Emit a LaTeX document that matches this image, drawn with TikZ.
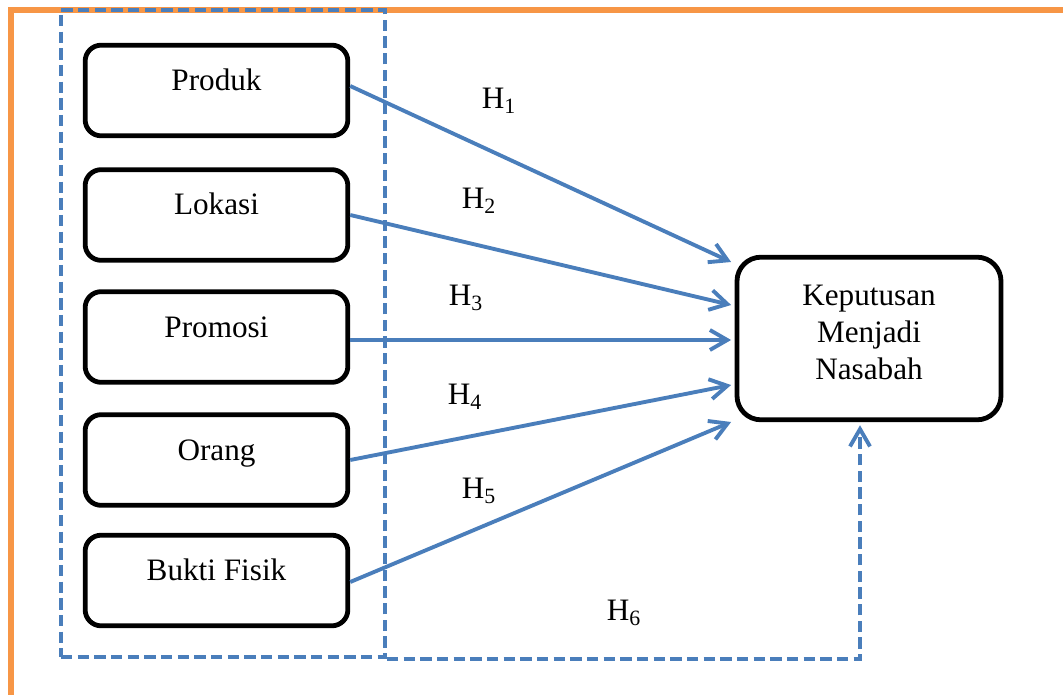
\documentclass[tikz,border=0pt]{standalone}
\usepackage{fontspec}
\setmainfont{Liberation Serif}
\usetikzlibrary{arrows.meta,calc}
\definecolor{lineblue}{RGB}{74,126,187}
\definecolor{frameorange}{RGB}{247,150,70}
\begin{document}
\begin{tikzpicture}[x=0.75pt,y=-0.75pt,
  txt/.style={font=\fontsize{23.4}{27.75}\selectfont},
  varbox/.style={txt, draw=black, line width=3.6pt, rounded corners=12pt,
    minimum width=197pt, minimum height=68pt, inner sep=0pt,
    text height=16pt, text depth=16pt},
  mainbox/.style={txt, draw=black, line width=3.6pt, rounded corners=18pt,
    minimum width=198pt, minimum height=122pt, inner sep=0pt, align=center,
    text depth=10pt},
  arrowline/.style={draw=lineblue, line width=2.9pt,
    -{Straight Barb[length=13pt,width=15pt,line width=2.9pt]}},
  dashblue/.style={draw=lineblue, line width=2.9pt, dash pattern=on 8.5pt off 4pt},
  hlabel/.style={txt, inner sep=0pt}
]
\useasboundingbox (0,0) rectangle (1063,695);
\clip (0,0) rectangle (1063,695);
% orange page frame
\draw[frameorange, line width=4pt] (1090,10) -- (11,10) -- (11,720);
% dashed group
\node[dashblue, minimum width=243pt, minimum height=485.25pt, inner sep=0pt] (grp) at (223,333.5) {};
% boxes
\node[varbox] (produk) at (216.5,90.5) {Produk};
\node[varbox] (lokasi) at (216.5,215) {Lokasi};
\node[varbox] (promosi) at (216.5,337) {Promosi};
\node[varbox] (orang) at (216.5,460) {Orang};
\node[varbox] (bukti) at (216.5,580.5) {Bukti Fisik};
\node[mainbox] (kep) at (869,338.5) {Keputusan\\Menjadi\\Nasabah};
% arrows
\draw[arrowline] ($(produk.east)+(0,-4.5)$) -- ($(kep.west)+(-3.5,-76.5)$);
\draw[arrowline] (lokasi.east) -- ($(kep.west)+(-3.5,-33.5)$);
\draw[arrowline] ($(promosi.east)+(0,3)$) -- ($(kep.west)+(-3.5,1.5)$);
\draw[arrowline] (orang.east) -- ($(kep.west)+(-3.5,46.5)$);
\draw[arrowline] ($(bukti.east)+(0,1.5)$) -- ($(kep.west)+(-3.5,83.5)$);
\draw[dashblue, -{Straight Barb[length=13pt,width=15pt,line width=2.9pt]}]
  (grp.south east) -| ($(kep.south)+(-9,3)$);
% labels
\node[hlabel] (h1) at (499,101) {H\textsubscript{1}};
\node[hlabel] (h2) at (479,201) {H\textsubscript{2}};
\node[hlabel] (h3) at (466,298) {H\textsubscript{3}};
\node[hlabel] (h4) at (465,397) {H\textsubscript{4}};
\node[hlabel] (h5) at (479,491) {H\textsubscript{5}};
\node[hlabel] (h6) at (624,613) {H\textsubscript{6}};
\end{tikzpicture}
\end{document}
